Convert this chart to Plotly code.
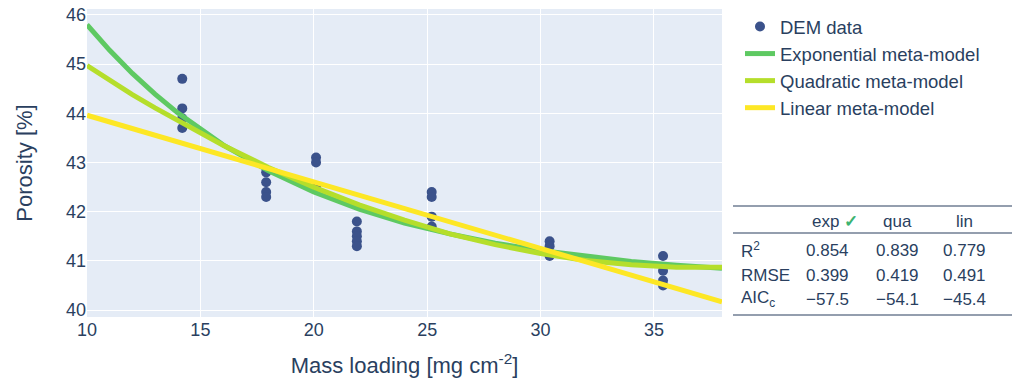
import plotly.graph_objects as go

# ---------------- data ----------------
dem_x = [14.2, 14.2, 14.2, 14.2,
         17.9, 17.9, 17.9, 17.9,
         20.1, 20.1, 20.1,
         21.9, 21.9, 21.9, 21.9, 21.9,
         25.2, 25.2, 25.2, 25.2,
         30.4, 30.4, 30.4,
         35.4, 35.4, 35.4, 35.4]
dem_y = [44.7, 44.1, 43.9, 43.7,
         42.8, 42.6, 42.4, 42.3,
         43.1, 43.0, 42.5,
         41.8, 41.6, 41.5, 41.4, 41.3,
         42.4, 42.3, 41.9, 41.7,
         41.4, 41.3, 41.1,
         41.1, 40.8, 40.6, 40.5]

model_x = [10, 11, 12, 13, 14, 16, 18, 20, 22, 24, 26, 28, 30, 32, 34, 36, 38]
exp_y = [45.80, 45.28, 44.81, 44.39, 44.01, 43.36, 42.83, 42.40, 42.05, 41.77,
         41.55, 41.36, 41.21, 41.09, 40.99, 40.91, 40.85]
qua_y = [44.97, 44.67, 44.38, 44.11, 43.85, 43.35, 42.90, 42.50, 42.14, 41.83,
         41.55, 41.33, 41.15, 41.01, 40.92, 40.87, 40.87]
lin_x = [10, 38]
lin_y = [43.96, 40.17]

table_cols = ["exp", "qua", "lin"]
table_rows = ["R<sup>2</sup>", "RMSE", "AIC<sub>c</sub>"]
table_vals = [["0.854", "0.839", "0.779"],
              ["0.399", "0.419", "0.491"],
              ["\u221257.5", "\u221254.1", "\u221245.4"]]

# ---------------- style ----------------
FONT = "Arial"
TXT = "#2a3f5f"
C_DEM = "#3b528b"
C_EXP = "#5ec962"
C_QUA = "#b5de2b"
C_LIN = "#fde725"

W, H = 1016, 378
ML, MT = 87, 9
MR = W - 722
MB = H - 317
PW, PH = W - ML - MR, H - MT - MB


def px(xs):
    # pixel x -> paper x
    return (xs - ML) / PW


def py(ys):
    # pixel y -> paper y
    return (H - MB - ys) / PH


fig = go.Figure()
fig.add_trace(go.Scatter(x=dem_x, y=dem_y, mode="markers", name="DEM data",
                         marker=dict(color=C_DEM, size=10)))
fig.add_trace(go.Scatter(x=model_x, y=exp_y, mode="lines", name="Exponential meta-model",
                         line=dict(color=C_EXP, width=5)))
fig.add_trace(go.Scatter(x=model_x, y=qua_y, mode="lines", name="Quadratic meta-model",
                         line=dict(color=C_QUA, width=5)))
fig.add_trace(go.Scatter(x=lin_x, y=lin_y, mode="lines", name="Linear meta-model",
                         line=dict(color=C_LIN, width=5)))

# ---------------- table ----------------
col_x = [827, 897, 965]
row_y = [250, 275, 299]
head_y = 221
label_x = 739
TS = 17
ann = []
for j, c in enumerate(table_cols):
    txt = c
    if j == 0:
        txt = "exp <b><span style='color:#3cb371'>\u2713</span></b>"
    ann.append(dict(x=px(col_x[j] + (8 if j == 0 else 0)), y=py(head_y), xref="paper", yref="paper",
                    text=txt, showarrow=False, xanchor="center", yanchor="middle",
                    font=dict(family=FONT, size=TS, color=TXT)))
for i, r in enumerate(table_rows):
    ann.append(dict(x=px(label_x), y=py(row_y[i]), xref="paper", yref="paper",
                    text=r, showarrow=False, xanchor="left", yanchor="middle",
                    font=dict(family=FONT, size=TS, color=TXT)))
    for j in range(3):
        ann.append(dict(x=px(col_x[j]), y=py(row_y[i]), xref="paper", yref="paper",
                        text=table_vals[i][j], showarrow=False, xanchor="center",
                        yanchor="middle", font=dict(family=FONT, size=TS, color=TXT)))

shapes = []
for yl in [206, 233, 315]:
    shapes.append(dict(type="line", xref="paper", yref="paper",
                       x0=px(733), x1=px(1012), y0=py(yl), y1=py(yl),
                       line=dict(color=TXT, width=1.2)))

fig.update_layout(
    width=W, height=H,
    margin=dict(l=ML, r=MR, t=MT, b=MB, autoexpand=False),
    template="plotly",
    font=dict(family=FONT, color=TXT, size=18),
    plot_bgcolor="#E5ECF6",
    legend=dict(x=px(740), y=py(8), xanchor="left", yanchor="top",
                font=dict(family=FONT, size=18.5, color=TXT),
                bgcolor="rgba(0,0,0,0)", tracegroupgap=0),
    annotations=ann,
    shapes=shapes,
)
fig.update_xaxes(range=[10, 38], dtick=5, tick0=10, showgrid=True, gridcolor="white",
                 zeroline=False, tickfont=dict(size=18), automargin=False,
                 ticklabeloverflow="allow",
                 title=dict(text="Mass loading [mg cm<sup>-2</sup>]", font=dict(size=22),
                            standoff=18))
fig.update_yaxes(range=[39.86, 46.12], dtick=1, tick0=40, showgrid=True, gridcolor="white",
                 zeroline=False, tickfont=dict(size=18), automargin=False,
                 ticklabeloverflow="allow",
                 title=dict(text="Porosity [%]", font=dict(size=22), standoff=27))

fig.write_html(
    "out.html",
    config={"displayModeBar": False},
    post_script="document.body.style.margin='0';document.body.style.overflow='hidden';",
)
